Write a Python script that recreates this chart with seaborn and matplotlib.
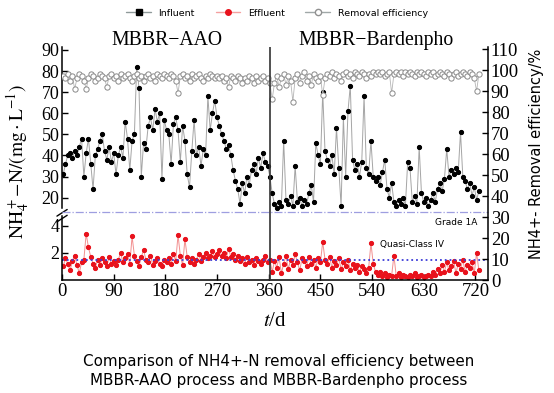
import numpy as np
import matplotlib.pyplot as plt
import seaborn as sns
from matplotlib.lines import Line2D

# NH4+-N readings, sampled every 4 days (day 2 ... day 726)
influent = [31, 36, 40, 41, 39, 42, 40, 44, 48, 30, 41, 48, 36, 24, 40, 43, 47, 50, 42, 38, 44, 37, 41,
            31, 40, 44, 39, 56, 48, 33, 47, 50, 82, 72, 30, 46, 43, 54, 58, 52, 62, 56, 60, 29, 57, 52,
            50, 36, 55, 58, 52, 37, 54, 47, 31, 25, 42, 57, 40, 44, 35, 43, 40, 68, 52, 60, 66, 58,
            54, 50, 47, 43, 45, 40, 33, 28, 24, 17, 27, 22, 30, 26, 33, 36, 31, 39, 34, 41, 37, 35, 30,
            22, 17, 15, 18, 16, 47, 19, 17, 21, 16, 35, 18, 20, 16, 19, 17, 22, 26, 18, 46, 40, 36, 70,
            42, 38, 35, 40, 31, 53, 34, 16, 58, 30, 61, 73, 38, 33, 36, 30, 37, 68, 34, 31, 47, 30, 28,
            30, 26, 32, 38, 24, 20, 27, 18, 16, 19, 17, 20, 16, 37, 34, 18, 21, 17, 44, 22, 18, 20, 16,
            19, 22, 18, 24, 27, 23, 29, 43, 30, 33, 31, 34, 32, 51, 30, 28, 24, 27, 21, 25, 19, 23]

effluent = [1.0, 1.6, 1.2, 0.7, 1.4, 1.8, 1.1, 0.5, 1.3, 1.5, 3.4, 2.4, 1.7, 1.2, 0.9, 1.5, 1.1, 1.6, 1.3, 1.0, 1.7, 1.2, 1.4,
            1.1, 1.5, 2.0, 1.3, 1.6, 1.9, 1.2, 3.2, 1.8, 1.4, 1.0, 1.7, 2.2, 1.5, 1.3, 1.8, 1.1, 1.4, 1.6, 1.2, 1.0, 1.5, 1.3,
            1.6, 1.2, 1.9, 1.4, 3.3, 1.8, 1.1, 3.0, 1.7, 1.3, 1.6, 1.2, 1.5, 1.9, 1.4, 1.7, 2.0, 1.6, 1.8, 2.1, 1.7, 1.9,
            2.2, 1.8, 2.0, 1.6, 2.3, 1.7, 1.9, 1.5, 1.8, 1.4, 1.6, 1.2, 1.7, 1.3, 1.5, 1.1, 1.6, 1.4, 1.2, 1.5, 1.8, 1.3, 1.5,
            0.6, 1.4, 0.9, 1.7, 0.5, 1.2, 1.8, 0.8, 1.5, 1.1, 1.9, 1.3, 0.7, 1.6, 1.4, 1.0, 1.7, 1.2, 1.5, 0.9, 1.6, 1.3, 2.8,
            1.5, 1.2, 1.7, 0.9, 1.4, 1.1, 1.6, 0.8, 1.3, 1.0, 1.5, 0.7, 1.2, 0.9, 1.1, 0.6, 1.0, 0.8, 0.5, 0.9, 2.7, 1.2, 0.6,
            0.4, 0.6, 0.3, 0.5, 0.2, 0.4, 0.3, 1.8, 0.3, 0.5, 0.2, 0.4, 0.3, 0.2, 0.4, 0.3, 0.5, 0.2, 0.3, 0.4, 0.2, 0.3, 0.4,
            0.3, 0.6, 0.4, 0.8, 0.5, 1.1, 0.6, 1.3, 0.7, 1.0, 1.4, 0.5, 1.2, 0.8, 1.5, 0.6, 1.1, 0.9, 1.3, 0.5, 2.0, 0.7]

removal = [97, 96, 98, 95, 97, 91, 96, 98, 97, 95, 91, 96, 98, 97, 95, 96, 98, 97, 96, 92, 97, 98, 96,
           97, 95, 98, 96, 97, 98, 96, 95, 97, 98, 96, 97, 95, 97, 98, 96, 97, 95, 98, 97, 96, 98, 97,
           96, 98, 97, 95, 89, 97, 98, 96, 97, 95, 98, 96, 97, 98, 96, 95, 97, 96, 98, 97, 96, 97,
           96, 97, 95, 96, 92, 97, 96, 95, 97, 96, 94, 96, 95, 97, 96, 94, 97, 95, 96, 97, 95, 96, 94,
           86, 94, 97, 92, 96, 98, 93, 97, 95, 85, 96, 98, 94, 97, 99, 95, 97, 93, 98, 96, 95, 97, 88,
           96, 98, 97, 99, 96, 98, 97, 95, 98, 99, 97, 98, 96, 99, 98, 97, 99, 98, 96, 98, 97, 99, 98,
           99, 98, 99, 97, 98, 99, 89, 98, 99, 98, 99, 97, 99, 98, 99, 98, 97, 99, 98, 99, 98, 97, 99,
           98, 99, 97, 98, 99, 98, 97, 99, 98, 96, 98, 99, 97, 98, 99, 98, 97, 99, 98, 96, 90, 98]

days = 2 + 4 * np.arange(len(influent))

grade_1a = 5.0
quasi_iv = 1.5
switch_day = 363

sns.set_style("ticks")
plt.rcParams['font.family'] = ['Liberation Serif', 'DejaVu Serif']
plt.rcParams['mathtext.fontset'] = 'stix'
plt.rcParams['xtick.direction'] = 'in'
plt.rcParams['ytick.direction'] = 'in'
plt.rcParams['text.color'] = 'black'
plt.rcParams['xtick.color'] = 'black'
plt.rcParams['ytick.color'] = 'black'
plt.rcParams['xtick.labelcolor'] = 'black'
plt.rcParams['ytick.labelcolor'] = 'black'

fig = plt.figure(figsize=(5.54, 3.93), dpi=100)
L, W = 0.112, 0.769
ax_top = fig.add_axes([L, 0.4606, W, 0.4198])
ax_bot = fig.add_axes([L, 0.2875, W, 0.173])
ax_eff = fig.add_axes([L, 0.2875, W, 0.593])
for a in (ax_top, ax_bot, ax_eff):
    a.patch.set_visible(False)
    a.set_xlim(0, 742)

# influent (upper part of broken axis)
sns.lineplot(x=days, y=influent, ax=ax_top, color='#a5a5a5', lw=0.7, marker='o',
             markersize=3.0, markerfacecolor='black', markeredgecolor='black')
ax_top.set_ylim(13.2, 91.4)
ax_top.set_yticks(range(20, 91, 10))
ax_top.set_xticks([])
ax_top.spines[['top', 'right', 'bottom']].set_visible(False)
ax_top.spines['left'].set_bounds(15, 91.4)

# effluent (lower part)
sns.lineplot(x=days, y=effluent, ax=ax_bot, color='#f29090', lw=0.7, marker='o',
             markersize=3.0, markerfacecolor='#e8121c', markeredgecolor='#e8121c')
ax_bot.axhline(grade_1a, color='#9e9ee0', ls='-.', lw=0.9, clip_on=False)
ax_bot.axhline(quasi_iv, color='#3c3cd8', ls=':', lw=1.3)
ax_bot.set_ylim(0, 5)
ax_bot.set_yticks([2, 4])
ax_bot.set_xticks(range(0, 721, 90))
ax_bot.spines[['top', 'right']].set_visible(False)
ax_bot.spines['left'].set_bounds(0, 4.7)

# removal efficiency on the right axis
sns.lineplot(x=days, y=removal, ax=ax_eff, color='#b5b5b5', lw=0.6, marker='o',
             markersize=3.8, markerfacecolor='white', markeredgecolor='#8a8a8a',
             markeredgewidth=0.7)
ax_eff.axvline(switch_day, color='#333333', lw=1.2)
ax_eff.set_ylim(0, 111)
ax_eff.set_yticks(range(0, 111, 10))
ax_eff.yaxis.tick_right()
ax_eff.set_xticks([])
ax_eff.spines[['top', 'left', 'bottom']].set_visible(False)

for a in (ax_top, ax_bot, ax_eff):
    a.set_xlabel('')
    a.set_ylabel('')
    a.tick_params(labelsize=13.5, length=4, width=1, pad=2, colors='black')
    for s in a.spines.values():
        s.set_linewidth(1.1)
        s.set_color('black')
ax_top.tick_params(labelsize=13)
ax_bot.tick_params(axis='y', labelsize=13)

# break marks on the left spine
for dy in (0.0, 0.035):
    ax_top.plot([-0.012, 0.012], [-0.06 + dy, -0.02 + dy], transform=ax_top.transAxes,
                color='black', lw=1, clip_on=False)

ax_bot.text(724, 4.2, 'Grade 1A', ha='right', va='center', family='DejaVu Sans', size=6.5)
ax_bot.text(553, 2.6, 'Quasi-Class IV', ha='left', va='center', family='DejaVu Sans', size=6.5)

fig.text(0.301, 0.898, 'MBBR\u2212AAO', ha='center', va='center', size=14.2)
fig.text(0.679, 0.898, 'MBBR\u2212Bardenpho', ha='center', va='center', size=14.2)
fig.text(0.033, 0.59, r'$\mathrm{NH_4^+{-}N/(mg\cdot L^{-1})}$', rotation=90,
         ha='center', va='center', size=14)
fig.text(0.969, 0.608, 'NH4+- Removal efficiency/%', rotation=90, ha='center', va='center',
         family='DejaVu Sans', size=10.5)
fig.text(0.496, 0.181, r'$t$/d', ha='center', va='center', size=15)

handles = [
    Line2D([], [], color='#8f9a9a', lw=1, marker='s', markersize=4,
           markerfacecolor='black', markeredgecolor='black'),
    Line2D([], [], color='#f4a0a0', lw=1, marker='o', markersize=4,
           markerfacecolor='#e8121c', markeredgecolor='#e8121c'),
    Line2D([], [], color='#a0a8a8', lw=1, marker='o', markersize=4.5,
           markerfacecolor='white', markeredgecolor='#909090'),
]
fig.legend(handles, ['Influent', 'Effluent', 'Removal efficiency'], loc='upper center',
           bbox_to_anchor=(0.5, 1.0), ncol=3, frameon=False, handlelength=2.6,
           columnspacing=2.2, labelcolor='black',
           prop={'family': 'DejaVu Sans', 'size': 6.8})

fig.text(0.503, 0.079, 'Comparison of NH4+-N removal efficiency between', ha='center',
         va='center', family='DejaVu Sans', size=10.9)
fig.text(0.503, 0.031, 'MBBR-AAO process and MBBR-Bardenpho process', ha='center',
         va='center', family='DejaVu Sans', size=10.9)

fig.savefig('out.png', dpi=100)
